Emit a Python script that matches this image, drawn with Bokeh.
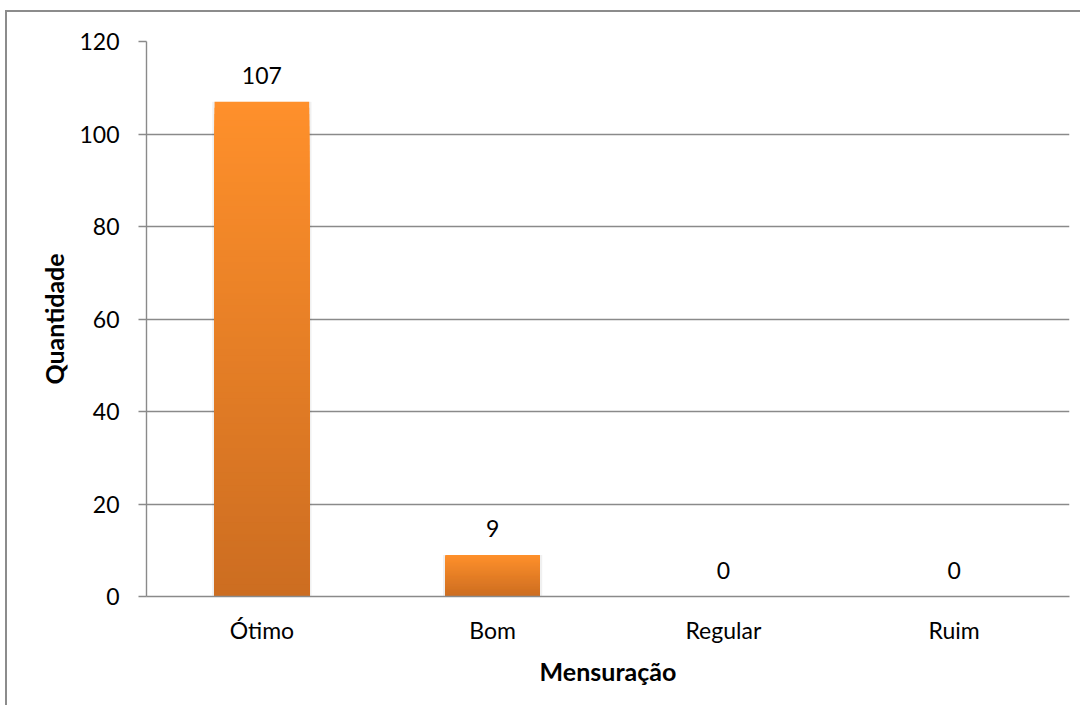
from bokeh.plotting import figure
from bokeh.models import FactorRange, Range1d, FixedTicker, ColumnDataSource
from bokeh.embed import file_html
from bokeh.resources import INLINE
from bokeh.core.properties import value

categories = ["Ótimo", "Bom", "Regular", "Ruim"]
values = [107, 9, 0, 0]
y_ticks = [0, 20, 40, 60, 80, 100, 120]
x_title = "Mensuração"
y_title = "Quantidade"

FONT = "Lato"
GRID = "#8a8a8a"
TOP_COL = (255, 144, 43)
BOT_COL = (204, 109, 33)
BAR_W = 0.41

p = figure(
    x_range=FactorRange(*categories, range_padding=0),
    y_range=Range1d(0, 120),
    width=1075, height=695,
    output_backend="svg", toolbar_location=None,
    min_border_left=139, min_border_top=29, min_border_right=13, min_border_bottom=111,
    styles={"border-top": "2px solid #8c8c8c", "border-left": "2px solid #8c8c8c",
            "margin-top": "10px", "margin-left": "5px"},
)
p.outline_line_color = None
p.background_fill_color = "white"
p.border_fill_color = "white"

# soft shadow behind bars
sh = ColumnDataSource(dict(x=[c for c, v in zip(categories, values) if v > 0],
                           top=[v for v in values if v > 0]))
p.vbar(x="x", top="top", bottom=0, width=BAR_W + 0.02, source=sh,
       fill_color="black", fill_alpha=0.06, line_color=None)

# gradient bars: overlapping slices from 0 up to successive heights
N = 80
xs, tops, cols = [], [], []
for c, v in zip(categories, values):
    if v <= 0:
        continue
    for i in range(N, 0, -1):
        t = (i - 0.5) / N
        col = tuple(int(round(BOT_COL[k] + (TOP_COL[k] - BOT_COL[k]) * t)) for k in range(3))
        xs.append(c)
        tops.append(v * i / N)
        cols.append("#%02x%02x%02x" % col)
src = ColumnDataSource(dict(x=xs, top=tops, color=cols))
p.vbar(x="x", top="top", bottom=0, width=BAR_W, source=src,
       fill_color="color", line_color=None)

# data labels
lab = ColumnDataSource(dict(x=categories, y=values, t=[str(v) for v in values]))
p.text(x="x", y="y", text="t", source=lab, text_align="center", text_baseline="middle",
       y_offset=-26, text_font=value(FONT), text_font_size="23px", text_color="black")

# grid
p.xgrid.grid_line_color = None
p.ygrid.grid_line_color = GRID
p.ygrid.grid_line_width = 1.4
p.yaxis.ticker = FixedTicker(ticks=y_ticks)

# y axis
p.yaxis.axis_line_color = GRID
p.yaxis.axis_line_width = 1.4
p.yaxis.major_tick_line_color = GRID
p.yaxis.major_tick_line_width = 1.4
p.yaxis.major_tick_out = 8
p.yaxis.major_tick_in = 0
p.yaxis.minor_tick_line_color = None
p.yaxis.major_label_standoff = 19
p.yaxis.major_label_text_font = FONT
p.yaxis.major_label_text_font_size = "23px"
p.yaxis.major_label_text_color = "black"
p.yaxis.axis_label = y_title
p.yaxis.axis_label_text_font = FONT
p.yaxis.axis_label_text_font_size = "25px"
p.yaxis.axis_label_text_font_style = "bold"
p.yaxis.axis_label_text_color = "black"
p.yaxis.axis_label_standoff = 7

# x axis
p.xaxis.axis_line_color = GRID
p.xaxis.axis_line_width = 1.4
p.xaxis.major_tick_line_color = None
p.xaxis.major_tick_out = 0
p.xaxis.major_tick_in = 0
p.xaxis.major_label_standoff = 19
p.xaxis.major_label_text_font = FONT
p.xaxis.major_label_text_font_size = "23px"
p.xaxis.major_label_text_color = "black"
p.xaxis.axis_label = x_title
p.xaxis.axis_label_text_font = FONT
p.xaxis.axis_label_text_font_size = "25px"
p.xaxis.axis_label_text_font_style = "bold"
p.xaxis.axis_label_text_color = "black"
p.xaxis.axis_label_standoff = 9

open("out.html", "w").write(file_html(p, INLINE))
